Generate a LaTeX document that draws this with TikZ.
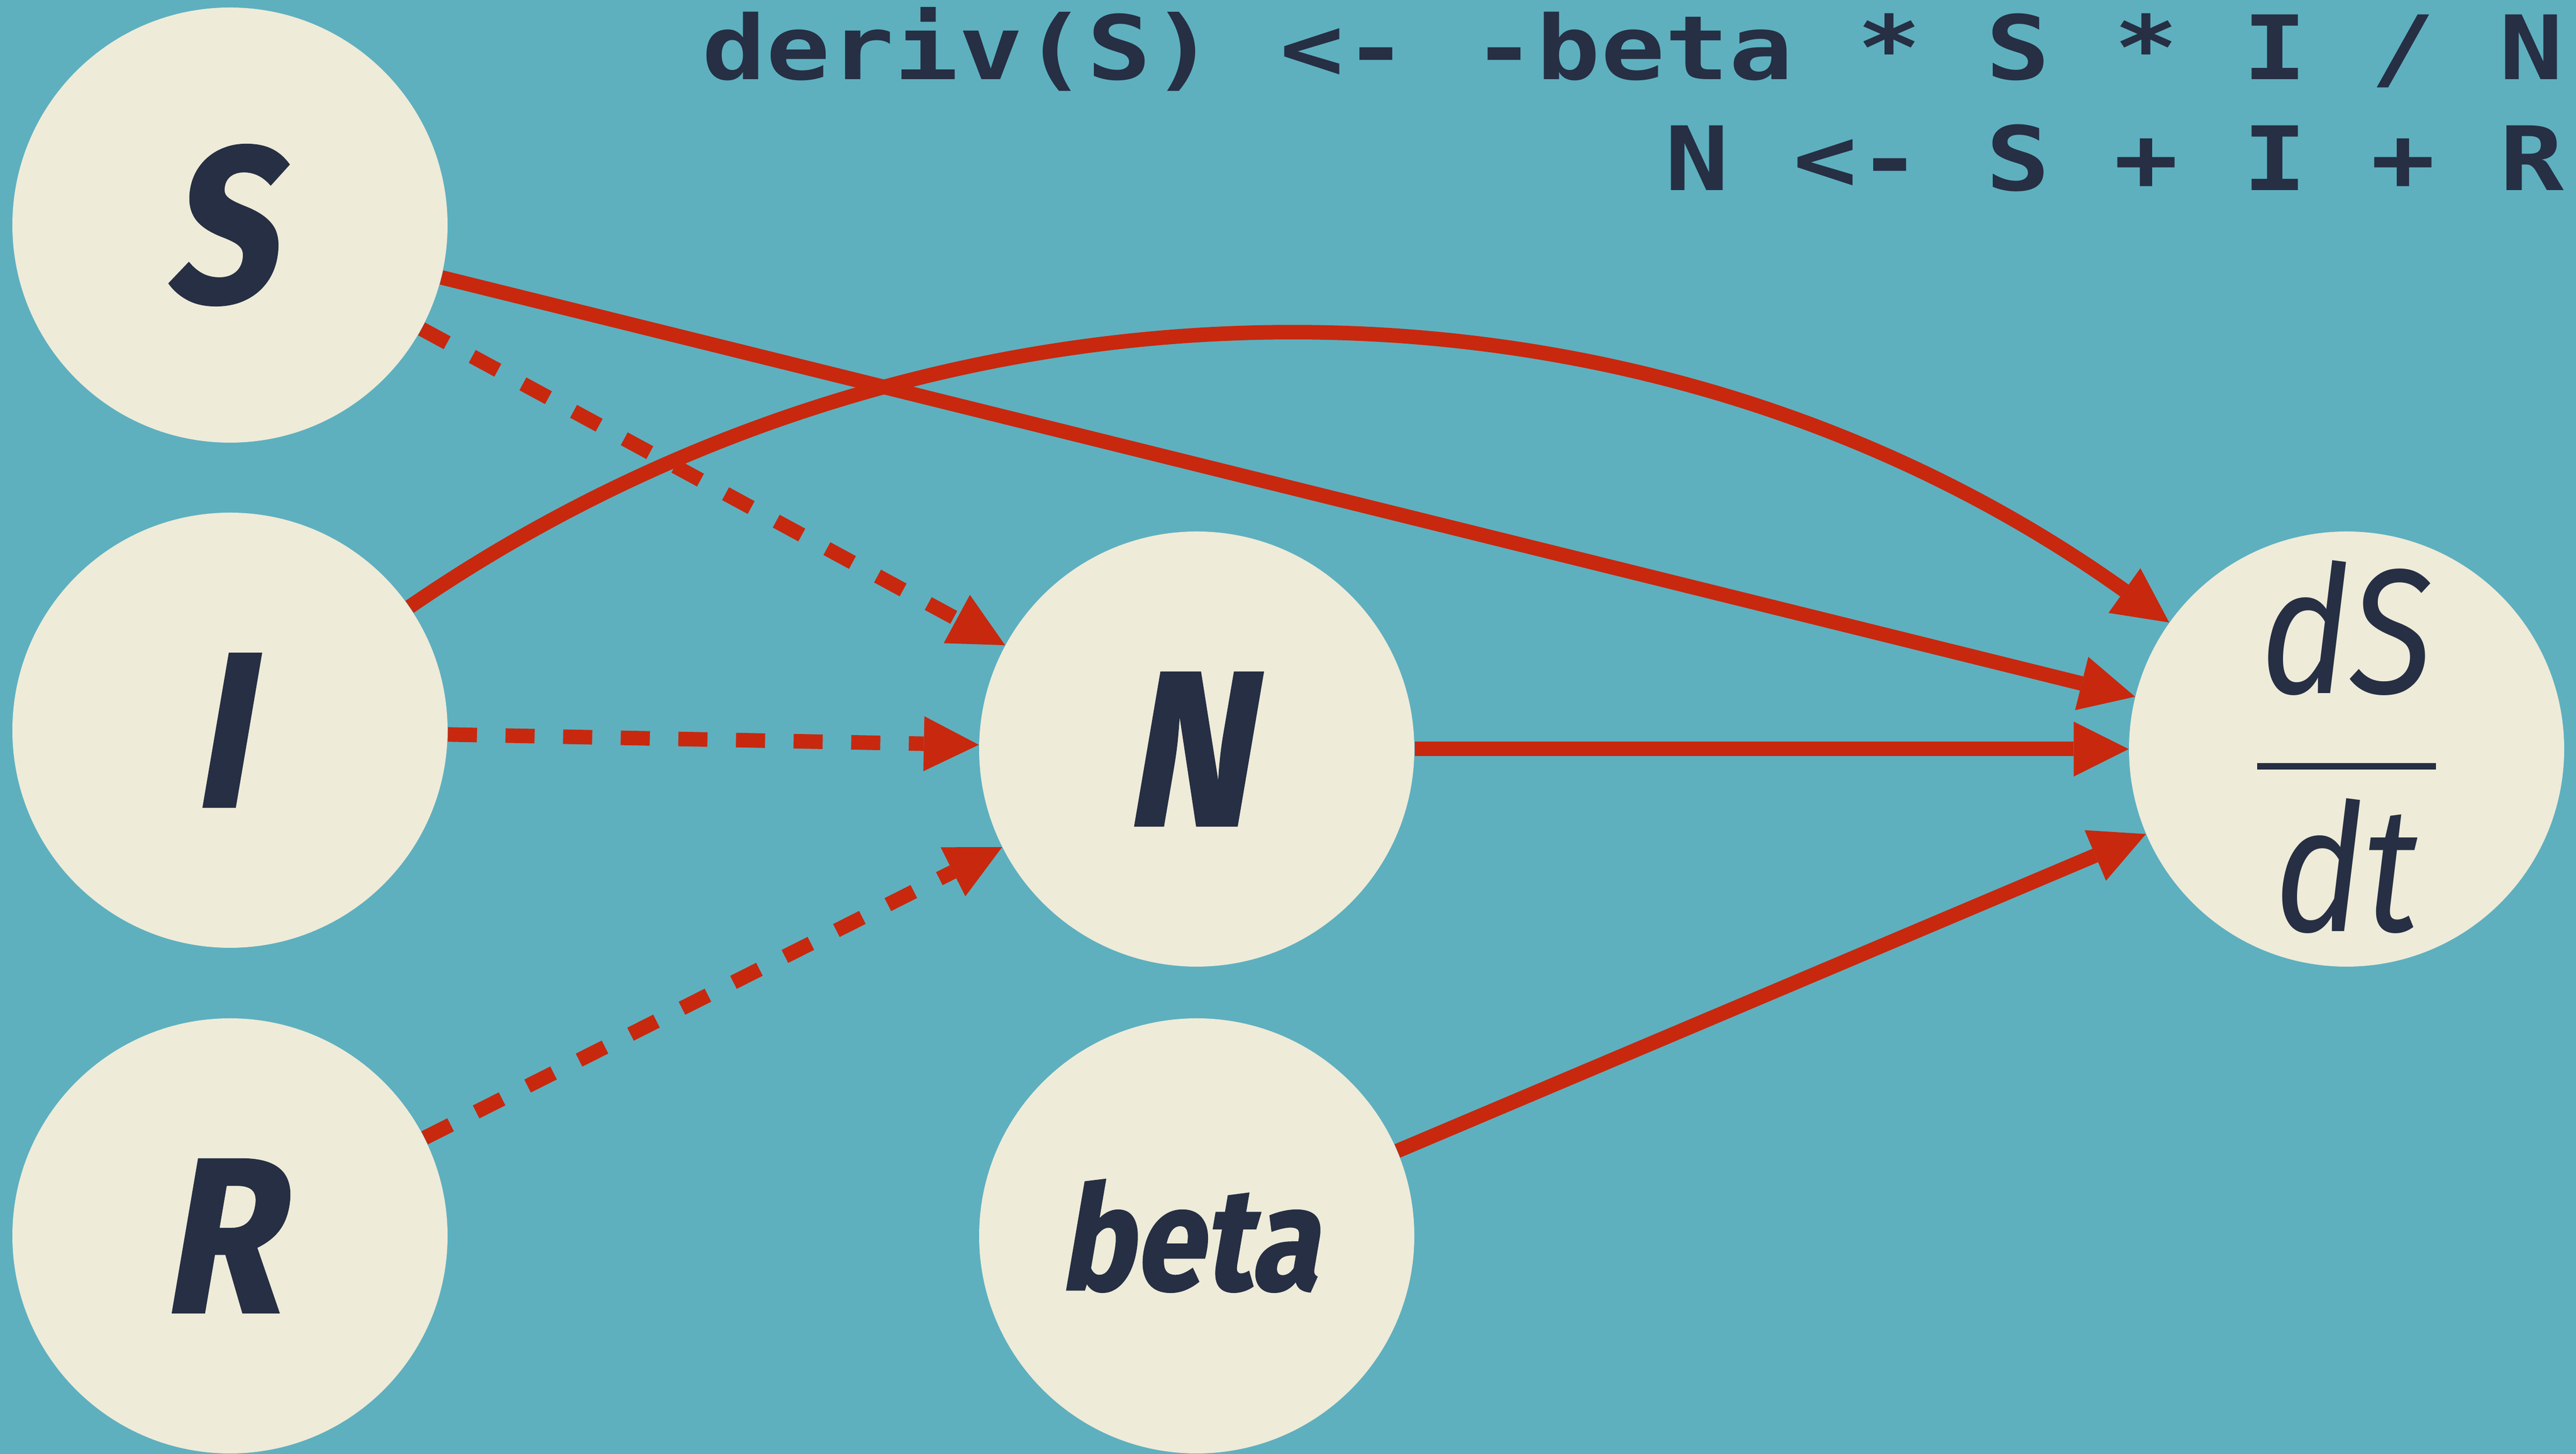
\documentclass[tikz,border=0pt]{standalone}
\usepackage{fontspec}
\newfontfamily\nodefont[FakeStretch=0.86]{Fira Sans}
\newfontfamily\heavyfont[FakeStretch=0.86,FakeBold=1,FakeSlant=0.17]{Fira Sans}
\newfontfamily\codefont[FakeStretch=1.2]{DejaVu Sans Mono}
\usetikzlibrary{arrows.meta}
\definecolor{bgteal}{HTML}{5EB0BF}
\definecolor{cream}{HTML}{EEEBD9}
\definecolor{linkred}{HTML}{C8280E}
\definecolor{ink}{HTML}{262F43}

\begin{document}
\begin{tikzpicture}[
    var/.style={circle, fill=cream, minimum size=8.08cm, inner sep=0pt, text=ink,
        font=\heavyfont\bfseries\fontsize{4.1cm}{5cm}\selectfont},
    letter/.style={var, execute at begin node=\hspace{-0.4cm}},
    code/.style={inner sep=0pt, text=ink, anchor=base east,
        font=\codefont\bfseries\fontsize{1.65cm}{2.06cm}\selectfont},
    link/.style={linkred, line width=0.27cm,
        -{Triangle[length=1.02cm, width=1.02cm, line width=0pt]}},
    dashlink/.style={link, dash pattern=on 0.54cm off 0.53cm}
]
    % Background
    \fill[bgteal] (0,0) rectangle (47.83,27);
    \useasboundingbox (0,0) rectangle (47.83,27);

    % Equations
    \node[code] (eq1) at (47.61,25.52) {deriv(S) <- -beta * S * I / N};
    \node[code] (eq2) at (47.61,23.46) {N <- S + I + R};

    % Variables
    \node[letter] (S) at (4.27,22.82) {S};
    \node[letter] (I) at (4.27,13.44) {I};
    \node[letter] (R) at (4.27,4.05) {R};
    \node[letter] (N) at (22.22,13.09) {N};
    \node[var, font=\heavyfont\bfseries\fontsize{2.7cm}{3.3cm}\selectfont,
        execute at begin node=\hspace{-0.3cm}] (beta) at (22.22,4.05) {beta};
    \node[var, font=\nodefont\itshape\fontsize{3.3cm}{4.3cm}\selectfont] (dSdt) at (43.57,13.09)
        {\raisebox{1.03cm}[0pt][0pt]{\setlength{\arrayrulewidth}{0.12cm}%
        \begin{tabular}[t]{@{\hspace{0.06cm}}c@{\hspace{0.06cm}}}dS\\\hline dt\end{tabular}}};

    % N = S + I + R
    \draw[dashlink] (S) -- (N);
    \draw[dashlink] (I) -- (N);
    \draw[dashlink] (R) -- (N);

    % Inputs of dS/dt
    \draw[link] (I) to[bend left=35, looseness=0.94] (dSdt);
    \draw[link] (S) -- (dSdt);
    \draw[link] (N) -- (dSdt);
    \draw[link] (beta) -- (dSdt);
\end{tikzpicture}
\end{document}
